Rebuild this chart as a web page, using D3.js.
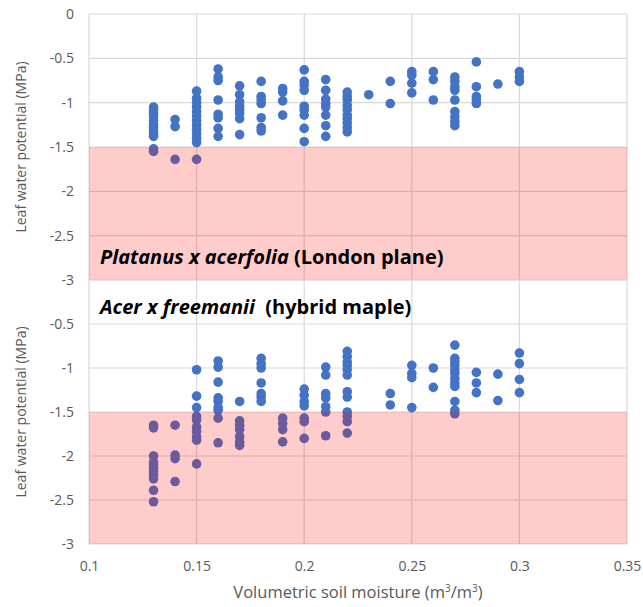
<!DOCTYPE html>
<html><head><meta charset="utf-8">
<script src="https://cdn.jsdelivr.net/npm/d3@7"></script>
<style>body{margin:0;background:#fff}svg{display:block}text{font-family:"Open Sans",sans-serif}</style>
</head><body><svg id="c" width="643" height="607"></svg>
<script>
// London plane (Platanus x acerfolia): soil moisture columns and leaf water potential readings
const planeMoisture = [0.13,0.14,0.15,0.16,0.17,0.18,0.19,0.20,0.21,0.22,0.23,0.24,0.25,0.26,0.27,0.28,0.29,0.30];
const planePotential = [
  [-1.05,-1.08,-1.12,-1.15,-1.2,-1.25,-1.28,-1.32,-1.35,-1.38,-1.52,-1.55],
  [-1.19,-1.27,-1.64],
  [-0.87,-0.95,-1.0,-1.05,-1.1,-1.15,-1.2,-1.25,-1.3,-1.35,-1.4,-1.45,-1.64],
  [-0.62,-0.71,-0.75,-0.97,-1.13,-1.17,-1.29,-1.38],
  [-0.81,-0.91,-0.99,-1.04,-1.08,-1.12,-1.18,-1.36],
  [-0.76,-0.93,-0.97,-1.01,-1.17,-1.28,-1.32],
  [-0.84,-0.88,-0.98,-1.14],
  [-0.63,-0.76,-0.8,-0.86,-1.04,-1.08,-1.14,-1.29,-1.44],
  [-0.74,-0.86,-0.96,-1.01,-1.05,-1.14,-1.26,-1.38],
  [-0.88,-0.93,-0.97,-1.03,-1.08,-1.14,-1.18,-1.23,-1.28,-1.33],
  [-0.91],
  [-0.76,-1.01],
  [-0.65,-0.69,-0.78,-0.89],
  [-0.65,-0.74,-0.97],
  [-0.71,-0.76,-0.82,-0.86,-0.97,-1.1,-1.16,-1.21,-1.26],
  [-0.54,-0.82,-0.93,-0.97,-1.01],
  [-0.79],
  [-0.65,-0.71,-0.76]
];
// Hybrid maple (Acer x freemanii)
const mapleMoisture = [0.13,0.14,0.15,0.16,0.17,0.18,0.19,0.20,0.21,0.22,0.24,0.25,0.26,0.27,0.28,0.29,0.30];
const maplePotential = [
  [-1.65,-1.68,-2.0,-2.07,-2.1,-2.14,-2.18,-2.22,-2.26,-2.39,-2.52],
  [-1.65,-1.99,-2.03,-2.29],
  [-1.02,-1.32,-1.45,-1.55,-1.59,-1.67,-1.72,-1.78,-1.82,-2.09],
  [-0.92,-0.99,-1.16,-1.34,-1.38,-1.45,-1.48,-1.57,-1.85],
  [-1.38,-1.6,-1.65,-1.7,-1.78,-1.84,-1.88],
  [-0.89,-0.95,-1.0,-1.17,-1.29,-1.33,-1.38],
  [-1.57,-1.63,-1.7,-1.84],
  [-1.24,-1.31,-1.38,-1.43,-1.57,-1.61,-1.8],
  [-0.99,-1.08,-1.29,-1.34,-1.44,-1.5,-1.77],
  [-0.81,-0.87,-0.93,-0.97,-1.02,-1.08,-1.27,-1.33,-1.5,-1.55,-1.61,-1.74],
  [-1.29,-1.42],
  [-0.97,-1.06,-1.11,-1.45],
  [-1.0,-1.22],
  [-0.74,-0.89,-0.93,-0.97,-1.02,-1.06,-1.12,-1.17,-1.21,-1.38,-1.48,-1.52],
  [-1.05,-1.17,-1.28],
  [-1.07,-1.37],
  [-0.83,-0.95,-1.13,-1.28]
];
const xTicks = [0.1,0.15,0.2,0.25,0.3,0.35];
const yTicksTop = [0,-0.5,-1,-1.5,-2,-2.5,-3];
const yTicksBottom = [-0.5,-1,-1.5,-2,-2.5,-3];
const stressBand = [-1.5,-3];

const svg = d3.select("#c");
const x = d3.scaleLinear().domain([0.1,0.35]).range([89,627]);
const grid = "#d9d9d9", txt = "#595959";

function panel(top, bottom, yTicks, moist, pot, showX) {
  const y = d3.scaleLinear().domain([0,-3]).range([top,bottom]);
  const g = svg.append("g");
  // gridlines
  g.selectAll(".hg").data([0,-0.5,-1,-1.5,-2,-2.5,-3]).join("line")
    .attr("x1",x(0.1)).attr("x2",x(0.35)).attr("y1",d=>y(d)).attr("y2",d=>y(d))
    .attr("stroke",grid).attr("stroke-width",1.2);
  g.selectAll(".vg").data(xTicks).join("line")
    .attr("x1",d=>x(d)).attr("x2",d=>x(d)).attr("y1",y(0)).attr("y2",y(-3))
    .attr("stroke",grid).attr("stroke-width",1.2);
  // y tick labels
  const ax = d3.axisLeft(y).tickValues(yTicks).tickSize(0).tickPadding(0).tickFormat(d=>String(d));
  const ag = g.append("g").attr("transform",`translate(${74},0)`).call(ax);
  ag.select(".domain").remove();
  ag.selectAll("text").attr("fill",txt).style("font-size","14px").style("font-family","'Open Sans',sans-serif");
  // points
  const pts = [];
  moist.forEach((m,i)=>pot[i].forEach(v=>pts.push([m,v])));
  g.selectAll("circle").data(pts).join("circle")
    .attr("cx",d=>x(d[0])).attr("cy",d=>y(d[1])).attr("r",4.8).attr("fill","#4472C4");
  // stress band overlay
  g.append("rect").attr("x",x(0.1)).attr("width",x(0.35)-x(0.1))
    .attr("y",y(stressBand[0])).attr("height",y(stressBand[1])-y(stressBand[0]))
    .attr("fill","rgba(255,0,0,0.2)");
  // y title
  g.append("text").attr("transform",`translate(26,${(top+bottom)/2}) rotate(-90)`)
    .attr("text-anchor","middle").attr("fill",txt).style("font-size","14px")
    .text("Leaf water potential (MPa)");
  if (showX) {
    const xa = d3.axisBottom(x).tickValues(xTicks).tickSize(0).tickPadding(0).tickFormat(d=>String(d));
    const xg = g.append("g").attr("transform",`translate(0,${bottom+27})`).call(xa);
    xg.select(".domain").remove();
    xg.selectAll("text").attr("fill",txt).style("font-size","14px").style("font-family","'Open Sans',sans-serif").attr("dy","0");
  }
  return y;
}

panel(14,280,yTicksTop,planeMoisture,planePotential,false);
panel(280,544,yTicksBottom,mapleMoisture,maplePotential,true);

// species labels
const t1 = svg.append("text").attr("x",100).attr("y",264).attr("fill","#000").style("font-size","20px").style("font-weight","bold");
t1.append("tspan").style("font-style","italic").text("Platanus x acerfolia");
t1.append("tspan").text(" (London plane)");
const t2 = svg.append("text").attr("x",100).attr("y",314).attr("fill","#000").style("font-size","20px").style("font-weight","bold");
t2.append("tspan").style("font-style","italic").text("Acer x freemanii");
t2.append("tspan").text("\u00a0 (hybrid maple)");

// x title
const xt = svg.append("text").attr("x",358).attr("y",598).attr("text-anchor","middle").attr("fill",txt).style("font-size","16.5px");
xt.append("tspan").text("Volumetric soil moisture (m");
xt.append("tspan").attr("dy",-6).style("font-size","10px").text("3");
xt.append("tspan").attr("dy",6).text("/m");
xt.append("tspan").attr("dy",-6).style("font-size","10px").text("3");
xt.append("tspan").attr("dy",6).text(")");
</script></body></html>
